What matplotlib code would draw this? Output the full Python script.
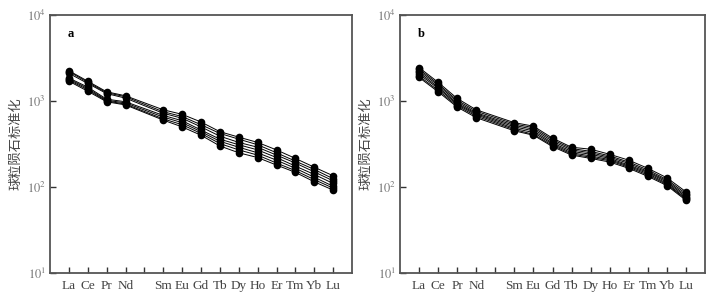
import matplotlib
matplotlib.use("Agg")
import matplotlib.pyplot as plt
import numpy as np

plt.rcParams['mathtext.fontset'] = 'stix'

elements = ['La', 'Ce', 'Pr', 'Nd', 'Pm', 'Sm', 'Eu', 'Gd', 'Tb', 'Dy', 'Ho', 'Er', 'Tm', 'Yb', 'Lu']
ree = ['La', 'Ce', 'Pr', 'Nd', 'Sm', 'Eu', 'Gd', 'Tb', 'Dy', 'Ho', 'Er', 'Tm', 'Yb', 'Lu']

# chondrite-normalised values
samples_a = [
    [2250, 1700, 1280, 1150, 790, 700, 570, 440, 380, 330, 270, 215, 170, 135],
    [2200, 1650, 1250, 1120, 750, 660, 530, 420, 360, 310, 250, 200, 160, 125],
    [2100, 1600, 1220, 1080, 720, 630, 500, 390, 330, 290, 235, 190, 150, 118],
    [1850, 1450, 1050, 980, 680, 590, 460, 360, 310, 270, 220, 175, 140, 110],
    [1800, 1400, 1020, 950, 650, 560, 440, 340, 290, 250, 205, 165, 130, 102],
    [1750, 1350, 1000, 920, 620, 530, 420, 320, 270, 235, 190, 155, 122, 97],
    [1700, 1300, 980, 900, 600, 500, 400, 300, 250, 220, 180, 148, 115, 92],
]
samples_b = [
    [2450, 1650, 1070, 790, 560, 510, 370, 290, 275, 240, 205, 165, 128, 88],
    [2350, 1580, 1020, 760, 540, 490, 355, 280, 260, 230, 195, 158, 122, 84],
    [2250, 1520, 980, 730, 520, 470, 340, 270, 250, 222, 188, 152, 118, 80],
    [2150, 1450, 940, 710, 500, 450, 325, 260, 240, 215, 180, 148, 114, 77],
    [2050, 1400, 910, 690, 480, 430, 315, 250, 230, 208, 175, 143, 110, 74],
    [1950, 1330, 880, 665, 465, 410, 305, 242, 222, 202, 170, 138, 107, 72],
    [1880, 1280, 850, 640, 450, 400, 295, 235, 215, 195, 165, 133, 104, 70],
]

ylabel = '球粒陨石标准化'
grey = '#444444'

fig = plt.figure(figsize=(7.17, 2.93), dpi=100)
ax_a = fig.add_axes([50/717, 20/293, 302/717, 258/293])
ax_b = fig.add_axes([400/717, 20/293, 305/717, 258/293])


def ree_plot(ax, samples, letter, label_x):
    pos = [elements.index(e) + 1 for e in ree]
    for s in samples:
        ax.plot(pos, s, '-o', color='black', lw=0.7, ms=5.5,
                markeredgewidth=0)
    ax.set_yscale('log')
    ax.set_ylim(10, 1e4)
    ax.set_xlim(0, 16)
    ax.set_xticks(range(1, 16))
    ax.set_xticklabels([e if e != 'Pm' else '' for e in elements],
                       family='Liberation Serif', fontsize=9.5, color=grey)
    ax.set_yticks([10, 100, 1000, 10000])
    ax.set_yticklabels([r'$10^{1}$', r'$10^{2}$', r'$10^{3}$', r'$10^{4}$'],
                       fontsize=9, color='#777777')
    ax.yaxis.set_minor_locator(matplotlib.ticker.NullLocator())
    ax.tick_params(axis='x', direction='in', length=4, width=1, pad=5,
                   color='#333333')
    ax.tick_params(axis='y', direction='in', length=4, width=1, pad=3,
                   color='#333333')
    for sp in ax.spines.values():
        sp.set_linewidth(1.3)
        sp.set_color('#555555')
    ax.set_ylabel(ylabel, family='Noto Sans CJK SC', fontsize=9.5, color=grey)
    ax.yaxis.set_label_coords(label_x, 0.5)
    ax.text(0.06, 0.95, letter, transform=ax.transAxes, ha='left', va='top',
            family='Liberation Serif', fontweight='bold', fontsize=9)


ree_plot(ax_a, samples_a, 'a', -0.09)
ree_plot(ax_b, samples_b, 'b', -0.09)

fig.savefig('out.png', dpi=100)
